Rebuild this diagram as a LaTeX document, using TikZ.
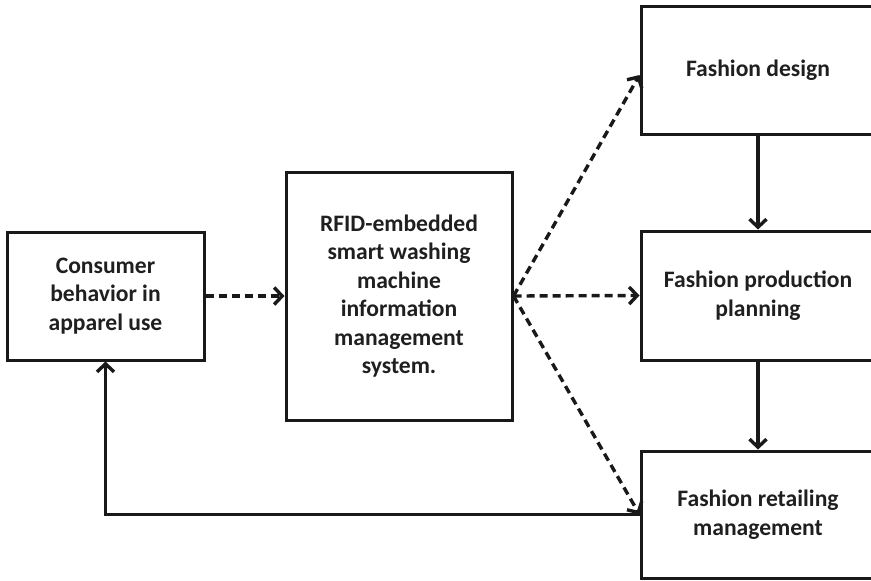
\documentclass[tikz,border=0pt]{standalone}
\usepackage{fontspec}
\setmainfont{Carlito}
\usetikzlibrary{arrows.meta}

\begin{document}
\begin{tikzpicture}[x=0.5pt,y=-0.5pt,
  block/.style={draw=black!90,line width=1.5pt,align=center,inner sep=0pt,
    font=\bfseries\fontsize{11.8}{14.25}\selectfont,text=black!88},
  dasharrow/.style={draw=black!90,line width=1.7pt,dash pattern=on 4pt off 2.5pt,
    -{Straight Barb[length=4pt,width=8.5pt,line width=1.7pt]}},
  solidarrow/.style={draw=black!90,line width=1.7pt,
    -{Straight Barb[length=4pt,width=8.5pt,line width=1.7pt]}}]
\useasboundingbox (0,0) rectangle (871,580);
\clip (0,0) rectangle (871,580);

\node[block,minimum width=98.5pt,minimum height=64pt] (consumer) at (105.5,296) {Consumer\\behavior in\\apparel use};
\node[block,minimum width=113pt,minimum height=124pt] (rfid) at (399,296) {RFID-embedded\\smart washing\\machine\\information\\management\\system.};
\node[block,minimum width=117pt,minimum height=64pt] (design) at (758,70) {Fashion design};
\node[block,minimum width=117pt,minimum height=64.5pt] (production) at (758,295.5) {Fashion production\\planning};
\node[block,minimum width=117pt,minimum height=63.5pt] (retail) at (758,514.5) {Fashion retailing\\management};

\draw[dasharrow] (consumer) -- (rfid);
\draw[dasharrow] (rfid.east) -- ([yshift=-2.5pt]design.west);
\draw[dasharrow] (rfid.east) -- (production.west);
\draw[dasharrow] (rfid.east) -- (retail.west);

\draw[solidarrow] (design) -- (production);
\draw[solidarrow] (production) -- (retail);
\draw[solidarrow] (retail.west) -| (consumer.south);
\end{tikzpicture}
\end{document}
